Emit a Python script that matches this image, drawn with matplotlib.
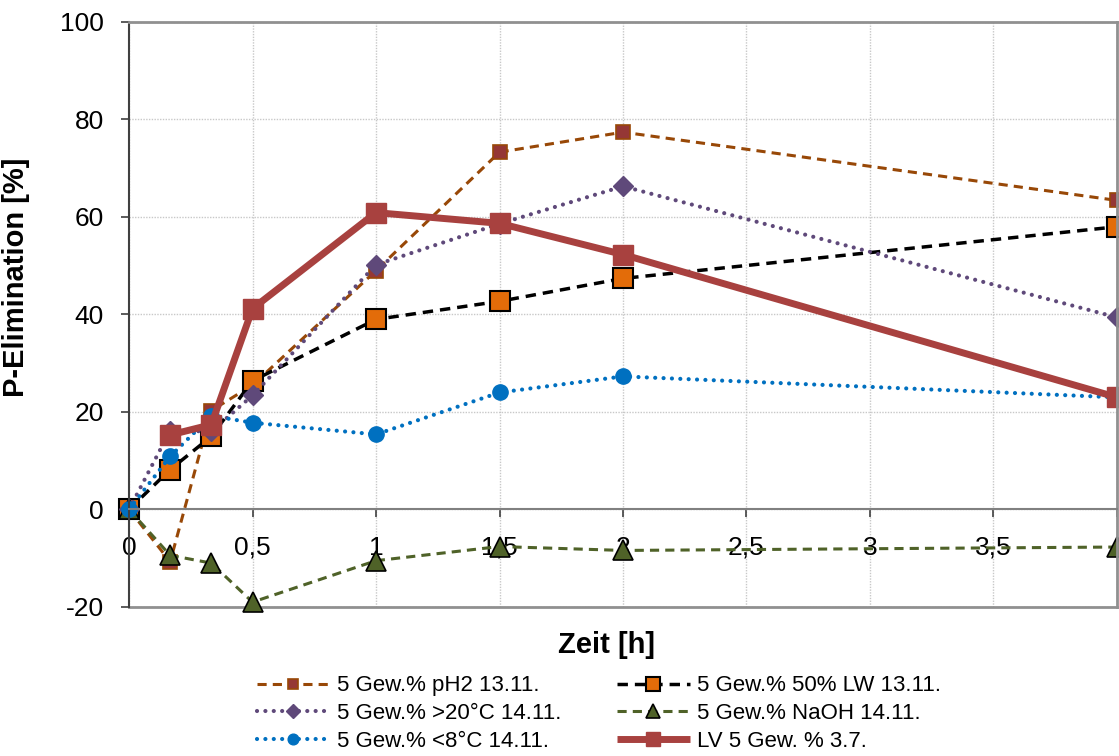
import matplotlib
matplotlib.use('Agg')
import matplotlib.pyplot as plt

plt.rcParams['font.family'] = ['Liberation Sans', 'DejaVu Sans']
plt.rcParams['axes.unicode_minus'] = False

# Zeit [h]
t_all = [0, 1/6, 1/3, 0.5, 1, 1.5, 2, 4]
t_lv = [1/6, 1/3, 0.5, 1, 1.5, 2, 4]

# P-Elimination [%]
ph2 = [0, -10.7, 20.3, 25.5, 49.0, 73.3, 77.4, 63.4]
lw50 = [0, 8.2, 15.0, 26.4, 39.0, 42.7, 47.4, 58.0]
warm = [0, 16.2, 16.0, 23.4, 50.2, 58.6, 66.3, 39.4]
naoh = [0, -9.4, -11.0, -19.0, -10.5, -7.6, -8.4, -7.7]
cold = [0, 10.9, 19.2, 17.8, 15.4, 24.0, 27.3, 23.0]
lv = [15.3, 17.4, 41.2, 60.9, 58.7, 52.3, 23.0]

labels = ['5 Gew.% pH2 13.11.', '5 Gew.% 50% LW 13.11.', '5 Gew.% >20\u00b0C 14.11.',
          '5 Gew.% NaOH 14.11.', '5 Gew.% <8\u00b0C 14.11.', 'LV 5 Gew. % 3.7.']

xticks = [0, 0.5, 1, 1.5, 2, 2.5, 3, 3.5, 4]
xticklabels = ['0', '0,5', '1', '1,5', '2', '2,5', '3', '3,5', '4']
yticks = [-20, 0, 20, 40, 60, 80, 100]

fig = plt.figure(figsize=(11.19, 7.56), dpi=100)
ax = fig.add_axes([0.1153, 0.1971, 0.8829, 0.7738])

l1, = ax.plot(t_all, ph2, color='#984807', lw=2.2, dashes=(3, 2),
              marker='s', ms=10, mfc='#953735', mec='#984807', mew=1.2)
l2, = ax.plot(t_all, lw50, color='black', lw=2.5, dashes=(3, 2),
              marker='s', ms=14, mfc='#E36C09', mec='black', mew=1.5)
l3, = ax.plot(t_all, warm, color='#5F497A', lw=3, dashes=(0.01, 2.0), dash_capstyle='round',
              marker='D', ms=10, mfc='#5F497A', mec='#5F497A')
l4, = ax.plot(t_all, naoh, color='#4F6228', lw=2.2, dashes=(3, 2),
              marker='^', ms=14, mfc='#4F6228', mec='black', mew=1.2)
l5, = ax.plot(t_all, cold, color='#0070C0', lw=3, dashes=(0.01, 2.0), dash_capstyle='round',
              marker='o', ms=11, mfc='#0070C0', mec='#0070C0')
l6, = ax.plot(t_lv, lv, color='#A8413F', lw=5, solid_capstyle='butt',
              marker='s', ms=14, mfc='#A8413F', mec='#A8413F')

for l in (l1, l2, l3, l4, l5, l6):
    l.set_clip_on(False)

ax.set_xlim(0, 4)
ax.set_ylim(-20, 100)
ax.set_xticks(xticks)
ax.set_xticklabels(xticklabels)
ax.set_yticks(yticks)
ax.grid(True, color='#C8C8C8', ls=(0, (1, 1)), lw=1)
ax.set_axisbelow(True)

ax.spines['bottom'].set_position(('data', 0))
ax.spines['bottom'].set_color('#808080')
ax.spines['bottom'].set_linewidth(1.5)
ax.spines['left'].set_color('#404040')
ax.spines['left'].set_linewidth(1.5)
for s in ('top', 'right'):
    ax.spines[s].set_color('#909090')
    ax.spines[s].set_linewidth(2)
ax.axhline(-20, color='#909090', lw=2, zorder=1, clip_on=False)

ax.tick_params(axis='y', direction='out', length=6, width=1.2, color='#404040', labelsize=19, pad=12)
ax.tick_params(axis='x', direction='out', length=6, width=1.2, color='#404040', labelsize=19, pad=13)

ax.set_ylabel('P-Elimination [%]', fontsize=21, fontweight='bold')
ax.yaxis.set_label_coords(-0.100, 0.564)
ax.set_xlabel('Zeit [h]', fontsize=21, fontweight='bold')
ax.xaxis.set_label_coords(0.483, -0.065)
ax.xaxis.label.set_va('center')

handles = [l1, l3, l5, l2, l4, l6]
leg_labels = [labels[0], labels[2], labels[4], labels[1], labels[3], labels[5]]
fig.legend(handles, leg_labels, loc='center', bbox_to_anchor=(0.535, 0.056), ncol=2,
           frameon=False, fontsize=16, handlelength=3.3, handletextpad=0.3,
           labelspacing=0.3, columnspacing=2.5, borderpad=0, markerscale=0.7)

fig.savefig('out.png', dpi=100)
